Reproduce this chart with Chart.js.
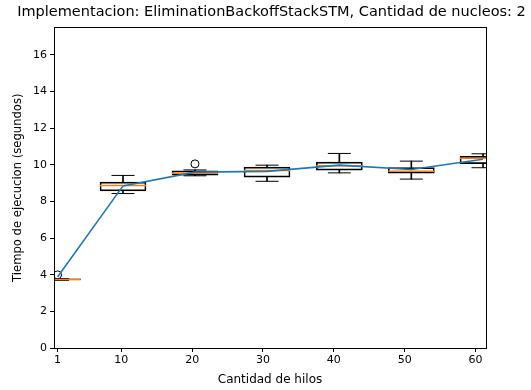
<!DOCTYPE html>
<html>
<head>
<meta charset="utf-8">
<script src="https://cdn.jsdelivr.net/npm/chart.js@4/dist/chart.umd.min.js"></script>
<style>
html,body{margin:0;padding:0;background:#fff;}
#wrap{width:531px;height:390px;}
</style>
</head>
<body>
<div id="wrap"><canvas id="c"></canvas></div>
<script>
// Tick labels on the x axis (cantidad de hilos)
const threadTicks = [1, 10, 20, 30, 40, 50, 60];
// Positions where the boxes / mean line were drawn
const positions = [1, 10.24, 20.4, 30.57, 40.78, 50.94, 61.06];
const q1 = [3.71, 8.58, 9.43, 9.33, 9.71, 9.54, 10.06];
const q3 = [3.77, 9.05, 9.67, 9.87, 10.15, 9.85, 10.46];
const medians = [3.74, 8.87, 9.54, 9.69, 9.95, 9.65, 10.36];
const whiskerLow = [3.69, 8.43, 9.40, 9.10, 9.56, 9.22, 9.84];
const whiskerHigh = [3.79, 9.42, 9.72, 9.98, 10.62, 10.20, 10.60];
const means = [3.88, 8.85, 9.60, 9.64, 9.98, 9.74, 10.30];
const outlierX = [1, 20.4];
const outlierY = [3.99, 10.05];
const yTicks = [0, 2, 4, 6, 8, 10, 12, 14, 16];

const BLUE = '#1f77b4', ORANGE = '#ff7f0e';
const FONT = 'DejaVu Sans';

const boxData = positions.map((p, i) => ({x: p, y: [q1[i], q3[i]]}));
const upperWhisker = positions.map((p, i) => ({x: p, y: [q3[i], whiskerHigh[i]]}));
const lowerWhisker = positions.map((p, i) => ({x: p, y: [whiskerLow[i], q1[i]]}));
const capData = positions.map((p, i) => ({x: p, y: whiskerHigh[i]}))
  .concat(positions.map((p, i) => ({x: p, y: whiskerLow[i]})));
const medianData = positions.map((p, i) => ({x: p, y: medians[i]}));
const meanData = positions.map((p, i) => ({x: p, y: means[i]}));
const outlierData = outlierX.map((x, i) => ({x: x, y: outlierY[i]}));

const frame = {
  id: 'frame',
  afterDraw(chart) {
    const a = chart.chartArea, ctx = chart.ctx;
    ctx.save();
    ctx.strokeStyle = '#000';
    ctx.lineWidth = 1;
    ctx.strokeRect(Math.round(a.left) + 0.5, Math.round(a.top) + 0.5,
      Math.round(a.right - a.left), Math.round(a.bottom - a.top));
    ctx.restore();
  }
};

new Chart(document.getElementById('c'), {
  type: 'bar',
  data: {
    datasets: [
      {type: 'line', data: meanData, borderColor: BLUE, borderWidth: 1.6,
       pointRadius: 0, tension: 0, order: 0},
      {type: 'bar', data: boxData, backgroundColor: 'rgba(0,0,0,0)', borderColor: '#000',
       borderWidth: 1, borderSkipped: false, barThickness: 46, grouped: false, order: 3},
      {type: 'bar', data: upperWhisker, backgroundColor: '#000', borderWidth: 0,
       barThickness: 1, grouped: false, order: 3},
      {type: 'bar', data: lowerWhisker, backgroundColor: '#000', borderWidth: 0,
       barThickness: 1, grouped: false, order: 3},
      {type: 'scatter', data: capData, pointStyle: 'line', pointRadius: 11.5,
       borderColor: '#000', borderWidth: 1, order: 2},
      {type: 'scatter', data: medianData, pointStyle: 'line', pointRadius: 23,
       borderColor: ORANGE, borderWidth: 1.5, order: 1},
      {type: 'scatter', data: outlierData, pointStyle: 'circle', pointRadius: 4,
       borderColor: '#000', backgroundColor: 'rgba(0,0,0,0)', borderWidth: 1, order: 1}
    ]
  },
  options: {
    responsive: true,
    maintainAspectRatio: false,
    animation: false,
    layout: {padding: {left: 12, right: 0, top: 0, bottom: 0}},
    plugins: {
      legend: {display: false},
      tooltip: {enabled: false},
      title: {
        display: true,
        text: 'Implementacion: EliminationBackoffStackSTM, Cantidad de nucleos: 2',
        color: '#000',
        font: {family: FONT, size: 14.5, weight: 'normal'},
        padding: {top: 4, bottom: 6}
      }
    },
    scales: {
      x: {
        type: 'linear',
        offset: false,
        min: 0.5,
        max: 61.48,
        grid: {display: true, offset: false, drawOnChartArea: false, drawTicks: true, tickLength: 4, tickColor: '#000'},
        border: {color: '#000'},
        afterBuildTicks(scale) { scale.ticks = threadTicks.map(v => ({value: v})); },
        afterFit(scale) { scale.height = 42; },
        ticks: {color: '#000', font: {family: FONT, size: 11}, padding: 2, maxRotation: 0,
                callback: v => String(v)},
        title: {display: true, text: 'Cantidad de hilos', color: '#000',
                font: {family: FONT, size: 12}, padding: {top: 0, bottom: 3}}
      },
      y: {
        min: 0,
        max: 17.5,
        grid: {display: true, offset: false, drawOnChartArea: false, drawTicks: true, tickLength: 4, tickColor: '#000'},
        border: {color: '#000'},
        afterBuildTicks(scale) { scale.ticks = yTicks.map(v => ({value: v})); },
        afterFit(scale) { scale.width = 42; },
        ticks: {color: '#000', font: {family: FONT, size: 11}, padding: 3,
                callback: v => String(v)},
        title: {display: true, text: 'Tiempo de ejecucion (segundos)', color: '#000',
                font: {family: FONT, size: 11.6}, padding: {top: -1, bottom: 4}}
      },
      yRight: {
        position: 'right',
        display: true,
        min: 0,
        max: 17.5,
        grid: {display: false},
        border: {display: false},
        ticks: {display: false},
        afterFit(scale) { scale.width = 45; }
      }
    }
  },
  plugins: [frame]
});
</script>
</body>
</html>
